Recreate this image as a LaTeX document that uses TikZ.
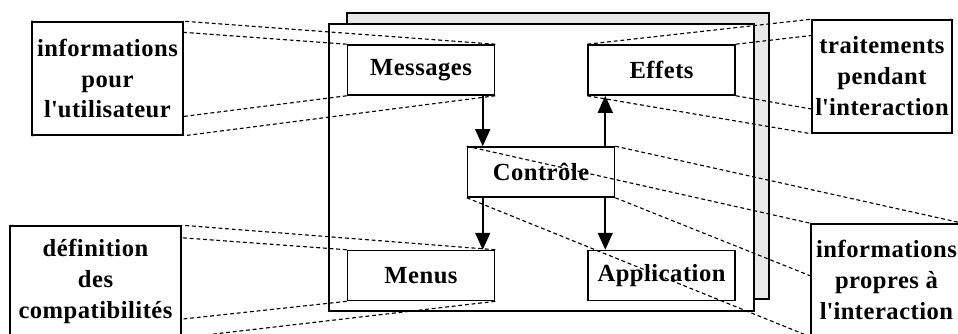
\documentclass[tikz,border=0pt]{standalone}
\usepackage{fontspec}
\setmainfont{Liberation Serif}[LetterSpace=2]
\usepackage{tikz}
\usetikzlibrary{positioning,arrows.meta,backgrounds}
\pgfdeclarelayer{front}
\pgfsetlayers{background,main,front}

\begin{document}
\begin{tikzpicture}[x=0.02cm, y=-0.02cm,
  part/.style={rectangle, draw, line width=0.9pt, minimum width=2.94cm, minimum height=1cm,
               inner sep=0pt, font=\fontsize{14}{17.6}\selectfont\bfseries},
  note/.style={rectangle, draw, fill=white, line width=0.9pt, align=center, inner sep=0pt,
               font=\fontsize{14}{17.6}\selectfont\bfseries},
  link/.style={dash pattern=on 2.2pt off 1.6pt, line width=0.65pt},
  flow/.style={-{Triangle[length=3.4mm, width=3mm]}, line width=0.9pt}
]
\useasboundingbox (0,0) rectangle (958,334);
\filldraw[fill=black!9, line width=0.9pt] (347,13) rectangle (769,299);
\filldraw[fill=white, line width=1pt] (329,24) rectangle (754,311);

\node[part] (msg) at (421,70) {Messages};
\node[part, right=1.84cm of msg] (eff) {Effets};
\node[part] (ctl) at (541,172) {Contrôle};
\node[part, below=3.08cm of msg] (men) {Menus};
\node[part, right=1.84cm of men] (app) {Application};

\begin{pgfonlayer}{front}
\node[note, minimum width=3.02cm, minimum height=2.26cm] (infoU) at (107.5,78.5) {informations\\pour\\l\textquotesingle utilisateur};
\node[note, minimum width=2.8cm, minimum height=2.26cm] (trait) at (882,76.5) {traitements\\pendant\\l\textquotesingle interaction};
\node[note, minimum width=3.42cm, minimum height=2.22cm] (defc) at (95.5,281.5) {définition\\des\\compatibilités};
\node[note, minimum width=3.02cm, minimum height=2.24cm] (infoI) at (886.5,280) {informations\\propres à\\l\textquotesingle interaction};
\end{pgfonlayer}

\draw[link] (msg.north west) -- (infoU.north west) (msg.north east) -- (infoU.north east)
            (msg.south west) -- (infoU.south west) (msg.south east) -- (infoU.south east);
\draw[link] (eff.north west) -- (trait.north west) (eff.north east) -- (trait.north east)
            (eff.south west) -- (trait.south west) (eff.south east) -- (trait.south east);
\draw[link] (ctl.north west) -- (infoI.north west) (ctl.north east) -- (infoI.north east)
            (ctl.south west) -- (infoI.south west) (ctl.south east) -- (infoI.south east);
\draw[link] (men.north west) -- (defc.north west) (men.north east) -- (defc.north east)
            (men.south west) -- (defc.south west) (men.south east) -- (defc.south east);

\draw[flow] ([xshift=0.32cm]ctl.north west |- msg.south) -- ([xshift=0.32cm]ctl.north west);
\draw[flow] ([xshift=-0.2cm]ctl.north east) -- ([xshift=-0.2cm]ctl.north east |- eff.south);
\draw[flow] ([xshift=0.32cm]ctl.south west) -- ([xshift=0.32cm]ctl.south west |- men.north);
\draw[flow] ([xshift=-0.2cm]ctl.south east) -- ([xshift=-0.2cm]ctl.south east |- app.north);
\end{tikzpicture}
\end{document}
